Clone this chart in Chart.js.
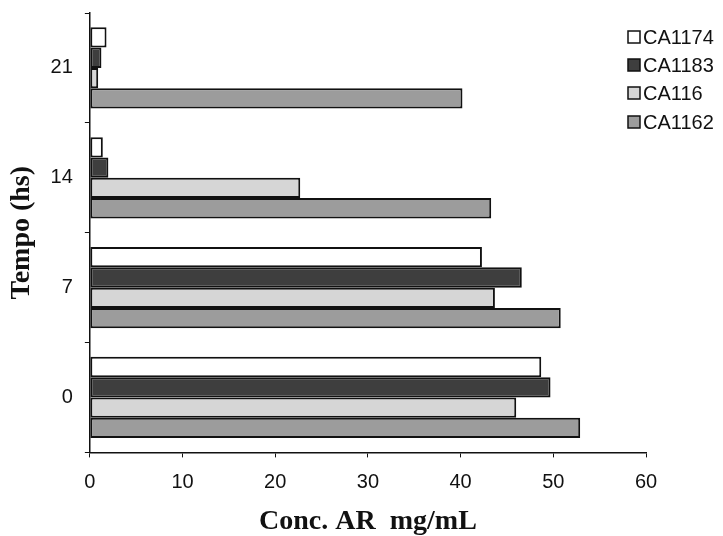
<!DOCTYPE html>
<html>
<head>
<meta charset="utf-8">
<script src="https://cdn.jsdelivr.net/npm/chart.js@4/dist/chart.umd.min.js"></script>
<style>
  html, body { margin: 0; padding: 0; background: #fff; }
  #wrap { width: 723px; height: 536px; }
</style>
</head>
<body>
<div id="wrap"><canvas id="c" width="723" height="536"></canvas></div>
<script>
// Categories listed top to bottom as they appear on the chart
const categories = ['21', '14', '7', '0'];
const seriesNames = ['CA1174', 'CA1183', 'CA116', 'CA1162'];
const ca1174 = [1.8, 1.4, 42.3, 48.7];
const ca1183 = [1.25, 2.0, 46.6, 49.7];
const ca116  = [0.9, 22.7, 43.7, 46.0];
const ca1162 = [40.2, 43.3, 50.8, 52.9];
const xTicks = [0, 10, 20, 30, 40, 50, 60];

const fills = ['#ffffff', '#3e3e3e', '#d6d6d6', '#9c9c9c'];
const values = [ca1174, ca1183, ca116, ca1162];

const legendPlugin = {
  id: 'sideLegend',
  afterDraw(chart) {
    const ctx = chart.ctx;
    const ys = [37, 65, 93, 122];
    ctx.save();
    ctx.font = '20px "Liberation Sans", Arial, sans-serif';
    ctx.textBaseline = 'middle';
    chart.data.datasets.forEach((ds, i) => {
      const y = ys[i];
      ctx.fillStyle = ds.backgroundColor;
      ctx.fillRect(628, y - 6, 12, 12);
      ctx.strokeStyle = '#111';
      ctx.lineWidth = 1.5;
      ctx.strokeRect(628, y - 6, 12, 12);
      ctx.fillStyle = '#111';
      ctx.fillText(ds.label, 643, y + 1);
    });
    ctx.restore();
  }
};

new Chart(document.getElementById('c'), {
  type: 'bar',
  data: {
    labels: categories,
    datasets: seriesNames.map((n, i) => ({
      label: n,
      data: values[i],
      backgroundColor: fills[i],
      borderColor: '#111',
      borderWidth: 2,
      borderSkipped: false,
      barPercentage: 1.0,
      categoryPercentage: 0.74
    }))
  },
  options: {
    indexAxis: 'y',
    responsive: false,
    animation: false,
    devicePixelRatio: 1,
    layout: { padding: { top: 13, right: 77, bottom: 0, left: 5 } },
    plugins: { legend: { display: false }, tooltip: { enabled: false } },
    scales: {
      x: {
        min: 0, max: 60,
        afterBuildTicks(axis) { axis.ticks = xTicks.map(v => ({ value: v })); },
        grid: { drawOnChartArea: false, tickLength: 5, color: '#111', tickWidth: 1 },
        border: { display: true, color: '#111', width: 1.5 },
        ticks: { color: '#111', font: { family: '"Liberation Sans", Arial, sans-serif', size: 20 }, padding: 13, maxRotation: 0 },
        title: { display: true, text: 'Conc. AR  mg/mL', color: '#111',
                 font: { family: '"Liberation Serif", "Times New Roman", serif', size: 28, weight: 'bold' },
                 padding: { top: -2, bottom: -3 } }
      },
      y: {
        afterFit(scale) { scale.paddingTop = 0; scale.paddingBottom = 0; },
        grid: { drawOnChartArea: false, tickLength: 5, color: '#111', offset: true },
        border: { display: true, color: '#111', width: 1.5 },
        ticks: { color: '#111', font: { family: '"Liberation Sans", Arial, sans-serif', size: 20 }, padding: 12 },
        title: { display: true, text: 'Tempo (hs)', color: '#111',
                 font: { family: '"Liberation Serif", "Times New Roman", serif', size: 28, weight: 'bold' },
                 padding: { top: 0, bottom: 0 } }
      }
    }
  },
  plugins: [legendPlugin]
});
</script>
</body>
</html>
